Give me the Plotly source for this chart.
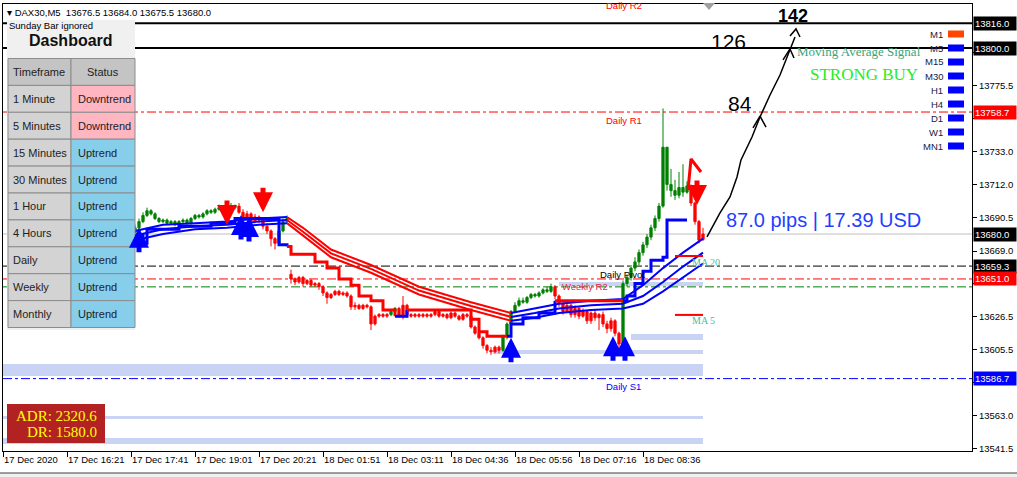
import plotly.graph_objects as go

# ------------------------------------------------------------------ data
SYMBOL = "DAX30,M5"
BAR0 = 33  # first drawn bar index (bars before it sit behind the dashboard)

opens = [
    13681, 13684, 13688, 13692, 13695, 13693, 13690, 13688, 13689, 13687,
    13688, 13686, 13688, 13689, 13687, 13690, 13692, 13691, 13693, 13695,
    13694, 13696, 13697, 13696, 13698, 13697, 13698, 13694, 13690, 13693,
    13688, 13691, 13689, 13685, 13682, 13677, 13674, 13682, 13688, 13654,
    13651, 13649, 13652, 13648, 13650, 13647, 13648, 13646, 13642, 13639,
    13641, 13643, 13641, 13642, 13640, 13633, 13634, 13632, 13634, 13633,
    13622, 13627, 13628, 13627, 13628, 13630, 13632, 13627, 13634, 13628,
    13627, 13628, 13627, 13628, 13627, 13628, 13630, 13627, 13628, 13626,
    13629, 13627, 13625, 13628, 13627, 13620, 13616, 13613, 13608, 13605,
    13604, 13607, 13605, 13614, 13622, 13630, 13634, 13637, 13636, 13639,
    13641, 13640, 13642, 13644, 13643, 13646, 13640, 13635, 13630, 13634,
    13628, 13632, 13627, 13630, 13624, 13629, 13626, 13628, 13622, 13619,
    13624, 13616, 13609, 13648, 13652, 13658, 13662, 13668, 13673, 13678,
    13684, 13690, 13698, 13736, 13712, 13708, 13705, 13710, 13707, 13711,
    13700, 13688, 13676.5,
]
highs = [
    13686, 13690, 13694, 13697, 13696, 13694, 13691, 13690, 13690, 13689,
    13689, 13689, 13690, 13690, 13691, 13693, 13693, 13694, 13696, 13696,
    13697, 13699, 13698, 13700, 13700, 13699, 13700, 13696, 13695, 13694,
    13693, 13692, 13690, 13687, 13683, 13678, 13684, 13690, 13692, 13657,
    13652, 13653, 13653, 13651, 13651, 13649, 13649, 13647, 13643, 13642,
    13644, 13644, 13643, 13643, 13641, 13636, 13635, 13635, 13635, 13634,
    13628, 13629, 13629, 13629, 13631, 13633, 13633, 13640, 13635, 13629,
    13629, 13629, 13629, 13629, 13629, 13631, 13631, 13629, 13629, 13630,
    13630, 13628, 13629, 13629, 13628, 13621, 13617, 13614, 13609, 13607,
    13608, 13608, 13615, 13623, 13631, 13636, 13639, 13639, 13640, 13642,
    13642, 13643, 13645, 13646, 13648, 13647, 13641, 13636, 13636, 13635,
    13634, 13633, 13632, 13631, 13630, 13631, 13629, 13630, 13624, 13626,
    13625, 13617, 13650, 13654, 13660, 13665, 13670, 13675, 13680, 13686,
    13692, 13700, 13761, 13727, 13722, 13715, 13720, 13725, 13714, 13712,
    13701, 13689, 13684.0,
]
lows = [
    13679, 13683, 13687, 13691, 13692, 13689, 13687, 13687, 13686, 13686,
    13685, 13685, 13687, 13686, 13686, 13689, 13690, 13690, 13692, 13693,
    13693, 13695, 13695, 13695, 13696, 13696, 13693, 13688, 13689, 13686,
    13687, 13687, 13683, 13680, 13672, 13670, 13673, 13681, 13687, 13648,
    13647, 13648, 13646, 13647, 13646, 13646, 13644, 13640, 13635, 13638,
    13640, 13640, 13640, 13639, 13631, 13631, 13631, 13631, 13632, 13618,
    13621, 13626, 13626, 13626, 13627, 13629, 13626, 13625, 13626, 13626,
    13626, 13626, 13626, 13626, 13626, 13627, 13626, 13626, 13625, 13625,
    13626, 13624, 13624, 13626, 13619, 13615, 13612, 13606, 13603, 13602,
    13603, 13603, 13604, 13612, 13620, 13629, 13633, 13635, 13635, 13638,
    13639, 13639, 13641, 13642, 13642, 13638, 13633, 13628, 13629, 13626,
    13626, 13625, 13626, 13622, 13622, 13624, 13618, 13620, 13616, 13617,
    13614, 13606, 13607, 13646, 13650, 13656, 13660, 13666, 13671, 13676,
    13682, 13688, 13697, 13708, 13704, 13702, 13703, 13704, 13706, 13698,
    13686, 13674, 13675.5,
]
closes = [
    13684, 13688, 13692, 13695, 13693, 13690, 13688, 13689, 13687, 13688,
    13686, 13688, 13689, 13687, 13690, 13692, 13691, 13693, 13695, 13694,
    13696, 13697, 13696, 13698, 13697, 13698, 13694, 13690, 13693, 13688,
    13691, 13689, 13685, 13682, 13677, 13674, 13682, 13688, 13690, 13651,
    13649, 13652, 13648, 13650, 13647, 13648, 13646, 13642, 13639, 13641,
    13643, 13641, 13642, 13640, 13633, 13634, 13632, 13634, 13633, 13622,
    13627, 13628, 13627, 13628, 13630, 13632, 13627, 13634, 13628, 13627,
    13628, 13627, 13628, 13627, 13628, 13630, 13627, 13628, 13626, 13629,
    13627, 13625, 13628, 13627, 13620, 13616, 13613, 13608, 13605, 13604,
    13607, 13605, 13614, 13622, 13630, 13634, 13637, 13636, 13639, 13641,
    13640, 13642, 13644, 13643, 13646, 13640, 13635, 13630, 13634, 13628,
    13632, 13627, 13630, 13624, 13629, 13626, 13628, 13622, 13619, 13624,
    13616, 13609, 13648, 13652, 13658, 13662, 13668, 13673, 13678, 13684,
    13690, 13698, 13736, 13712, 13708, 13705, 13710, 13707, 13711, 13700,
    13688, 13676, 13680.0,
]
# bars painted green (uptrend); all others painted red
up_segments = [(33, 58), (69, 71), (97, 98), (125, 137), (155, 171)]

x_tick_bars = [0, 16, 32, 48, 64, 80, 96, 112, 128, 144, 160]
x_tick_text = ["17 Dec 2020", "17 Dec 16:21", "17 Dec 17:41", "17 Dec 19:01",
               "17 Dec 20:21", "18 Dec 01:51", "18 Dec 03:11", "18 Dec 04:36",
               "18 Dec 05:56", "18 Dec 07:16", "18 Dec 08:36"]
y_tick_vals = [13541.5, 13563.0, 13584.0, 13605.5, 13626.5, 13648.0, 13669.0,
               13690.5, 13712.0, 13733.0, 13754.5, 13775.5, 13797.0]

# three moving averages (u = rising/blue, d = falling/red)
ma_bars = [33, 40, 48, 56, 64, 71, 75, 82, 92, 104, 117, 127, 133, 139, 147, 155, 160, 165, 170, 175]
ma_fast = [13682, 13686, 13687, 13688, 13690, 13691, 13684, 13670, 13660, 13646, 13636, 13629,
           13632, 13635, 13637, 13638, 13647, 13658, 13668, 13677]
ma_mid = [13679, 13683, 13685, 13686, 13688, 13689, 13681.5, 13667.5, 13657.5, 13643.5, 13633.5,
          13626.5, 13629, 13632, 13634, 13635, 13640, 13649, 13659, 13668]
ma_slow = [13676, 13680, 13683, 13684, 13686, 13687, 13679, 13665, 13655, 13641, 13631, 13624,
           13626, 13629, 13631, 13632, 13635, 13643, 13652, 13661]
ma_dir = ['u'] * 5 + ['d'] * 6 + ['u'] * 9

# stepped trend line
trail_bars = [33, 35, 36, 44, 52, 58, 68, 69, 71, 72, 78, 81, 84, 87, 89, 92, 95, 98, 101, 117,
              119, 121, 126, 127, 130, 134, 138, 155, 156, 158, 160, 162, 165, 166, 171]
trail_prices = [13679, 13674, 13683, 13685, 13687, 13690, 13690, 13673, 13672, 13667, 13662, 13658,
                13651, 13647, 13640, 13637, 13631, 13627, 13631, 13625, 13617, 13614, 13614, 13622,
                13626, 13629, 13637, 13637, 13640, 13648, 13656, 13663, 13665, 13689, 13689]
trail_dir = ['u'] * 8 + ['d'] * 9 + ['u'] + ['d'] * 4 + ['u'] * 4 + ['d'] + ['u'] * 8

# signal arrows (head position)
buy_bars = [34, 59.5, 61.5, 127, 152.5, 155.5]
buy_prices = [13684, 13692.3, 13691, 13613, 13614, 13614]
sell_bars = [56, 65, 173.5]
sell_prices = [13685.8, 13694, 13698.7]
caret_bars = [171.25, 172, 174.5]
caret_prices = [13708.4, 13728.4, 13720.0]

# horizontal levels
level_prices = [13816.0, 13800.0, 13758.7, 13680.0, 13659.3, 13651.0, 13645.9, 13586.7]
level_colors = ['#000000', '#000000', '#ff0000', '#c0c0c0', '#000000', '#ff0000', '#008000', '#0000ff']
level_dash = ['solid', 'solid', 'dashdot', 'solid', 'dashdot', 'dashdot', 'dashdot', 'dashdot']
level_width = [2, 2, 1, 1, 1, 1, 1, 1]
level_box = ['#000000', '#000000', '#ff0000', '#000000', '#000000', '#ff0000', None, '#0000ff']

pivot_names = ["Daily R1", "Daily Pivot", "Weekly R2", "Daily S1"]
pivot_prices = [13758.7, 13659.3, 13651.0, 13586.7]
pivot_bars = [150.25, 148.75, 139.25, 150.25]
pivot_colors = ['#ff0000', '#000000', '#e8254a', '#0000ff']

# support / resistance zones: (low, high, from bar, to bar)
zone_low = [13588.4, 13602.6, 13611.6, 13646.5, 13560.6, 13544.5]
zone_high = [13596.1, 13605.2, 13615.5, 13649.0, 13562.6, 13548.4]
zone_from = [0, 122.5, 157, 139, 0, 0]
zone_to = [175, 175, 175, 175, 175, 175]

# MA end markers
ma_label_names = ["MA 20", "MA 5"]
ma_label_prices = [13665.8, 13627.8]

# hand-drawn projection
draw_bars = [176, 179.25, 181.75, 183.5, 184.5, 187.25, 189.25, 191.75, 194.25, 196.25, 198]
draw_prices = [13678.1, 13693.6, 13703.9, 13716.8, 13727.8, 13742.6, 13755.5, 13769.7, 13782.6,
               13795.5, 13807.1]
head_bars = [[187.5, 189.25, 190.75], [195, 196.75, 197.75], [196.75, 198.25, 199.25]]
head_prices = [[13748.4, 13756.1, 13749.0], [13792.3, 13799.4, 13793.6], [13807.8, 13812.3, 13807.1]]
target_labels = ["84", "126", "142"]
target_bars = [184.25, 181.25, 197.5]
target_prices = [13764.5, 13803.9, 13820.7]

pips, usd = 87.0, 17.39
adr, dr = 2320.6, 1580.0

tf_names = ["1 Minute", "5 Minutes", "15 Minutes", "30 Minutes", "1 Hour", "4 Hours",
            "Daily", "Weekly", "Monthly"]
tf_status = ["Downtrend", "Downtrend", "Uptrend", "Uptrend", "Uptrend", "Uptrend",
             "Uptrend", "Uptrend", "Uptrend"]
sig_names = ["M1", "M5", "M15", "M30", "H1", "H4", "D1", "W1", "MN1"]
sig_colors = ["#ff4500"] + ["#0000ff"] * 8

# ------------------------------------------------------------------ style
W, H = 1017, 477
L, R, T, B = 3, 972, 4, 451
GREEN, RED, BLUE = '#008000', '#ff0000', '#0000ff'
SANS = "Liberation Sans"
SERIF = "Liberation Serif"


def px(X):
    return (X - L) / (R - L)


def py(Y):
    return 1 - (Y - T) / (B - T)


def note(X, Y, text, size, color, family=SANS, xanchor='left'):
    fig.add_annotation(x=px(X), y=py(Y), xref='paper', yref='paper', text=text, showarrow=False,
                       xanchor=xanchor, yanchor='middle', font=dict(family=family, size=size, color=color))


fig = go.Figure()

# candles
bars = list(range(BAR0, BAR0 + len(closes)))


def is_up(b):
    return any(a <= b <= c for a, c in up_segments)


for flag, col in ((True, GREEN), (False, RED)):
    ks = [k for k, b in enumerate(bars) if is_up(b) == flag]
    fig.add_trace(go.Candlestick(
        x=[bars[k] for k in ks], open=[opens[k] for k in ks], high=[highs[k] for k in ks],
        low=[lows[k] for k in ks], close=[closes[k] for k in ks],
        increasing=dict(line=dict(color=col, width=1), fillcolor=col),
        decreasing=dict(line=dict(color=col, width=1), fillcolor=col),
        whiskerwidth=0, showlegend=False, hoverinfo='skip'))


def add_dir_line(xs, ys, dirs, width, shape='linear'):
    start = 0
    n = len(xs)
    for k in range(1, n):
        if dirs[k] != dirs[start] or k == n - 1:
            fig.add_trace(go.Scatter(
                x=xs[start:k + 1], y=ys[start:k + 1], mode='lines',
                line=dict(color=BLUE if dirs[start] == 'u' else RED, width=width, shape=shape),
                showlegend=False, hoverinfo='skip'))
            start = k


for ma in (ma_fast, ma_mid, ma_slow):
    add_dir_line(ma_bars, ma, ma_dir, 2)
add_dir_line(trail_bars, trail_prices, trail_dir, 3, 'hv')

# red caret
fig.add_trace(go.Scatter(x=caret_bars, y=caret_prices, mode='lines',
                         line=dict(color=RED, width=3), showlegend=False, hoverinfo='skip'))

# MA end markers
for name, p in zip(ma_label_names, ma_label_prices):
    fig.add_trace(go.Scatter(x=[168, 175], y=[p, p], mode='lines', line=dict(color=RED, width=2),
                             showlegend=False, hoverinfo='skip'))
    fig.add_annotation(x=171.75, y=p, xref='x', yref='y', text=name, showarrow=False,
                       xanchor='left', yanchor='middle', yshift=-6,
                       font=dict(family=SERIF, size=10, color='#40c0a0'))

# hand-drawn projection
fig.add_trace(go.Scatter(x=draw_bars, y=draw_prices, mode='lines', line=dict(color='black', width=1.5),
                         showlegend=False, hoverinfo='skip'))
for hb, hp in zip(head_bars, head_prices):
    fig.add_trace(go.Scatter(x=hb, y=hp, mode='lines', line=dict(color='black', width=1.5),
                             showlegend=False, hoverinfo='skip'))
for t, b, p in zip(target_labels, target_bars, target_prices):
    fig.add_annotation(x=b, y=p, xref='x', yref='y', text=f"<b>{t}</b>" if t == "142" else t,
                       showarrow=False, xanchor='center', yanchor='middle',
                       font=dict(family=SANS, size=18 if t == "142" else 21, color='black'))

# signal arrows
for b, p in zip(buy_bars, buy_prices):
    fig.add_annotation(x=b, y=p, xref='x', yref='y', ax=0, ay=26, text='', showarrow=True,
                       arrowhead=2, arrowsize=0.8, arrowwidth=5, arrowcolor=BLUE)
for b, p in zip(sell_bars, sell_prices):
    fig.add_annotation(x=b, y=p, xref='x', yref='y', ax=0, ay=-26, text='', showarrow=True,
                       arrowhead=2, arrowsize=0.8, arrowwidth=5, arrowcolor=RED)

shapes = []
# zones
for lo, hi, x0, x1 in zip(zone_low, zone_high, zone_from, zone_to):
    shapes.append(dict(type='rect', xref='x', yref='y', x0=x0, x1=x1, y0=lo, y1=hi,
                       fillcolor='#c9d4f4', line=dict(width=0), layer='below'))
# levels
for p, c, d, w in zip(level_prices, level_colors, level_dash, level_width):
    shapes.append(dict(type='line', xref='paper', yref='y', x0=0, x1=1, y0=p, y1=p,
                       line=dict(color=c, width=w, dash=d), layer='below'))
for p, bc in zip(level_prices, level_box):
    if bc:
        fig.add_annotation(x=1, y=p, xref='paper', yref='y', text=f"{p:.1f}", showarrow=False,
                           xanchor='left', yanchor='middle', xshift=1, bgcolor=bc, borderpad=1,
                           width=40, align='left', font=dict(family=SANS, size=9.5, color='white'))
for name, p, b, c in zip(pivot_names, pivot_prices, pivot_bars, pivot_colors):
    fig.add_annotation(x=b, y=p, xref='x', yref='y', text=name, showarrow=False, xanchor='left',
                       yanchor='middle', yshift=-8, font=dict(family=SANS, size=9.5, color=c))
note(604, 6, "Daily R2", 9.5, '#ff0000')
# chart shift marker
shapes.append(dict(type='path', xref='paper', yref='paper',
                   path=f"M{px(703)},{py(3)} L{px(715)},{py(3)} L{px(709)},{py(10)} Z",
                   fillcolor='#a0a0a0', line=dict(width=0)))

# header
note(5, 12, f"▾ {SYMBOL}  {opens[-1]:.1f} {highs[-1]:.1f} {lows[-1]:.1f} {closes[-1]:.1f}", 9.5, 'black')

# pips text
fig.add_annotation(x=180.25, y=13689.0, xref='x', yref='y', xanchor='left', yanchor='middle',
                   showarrow=False, text=f"{pips:.1f} pips | {usd:.2f} USD",
                   font=dict(family=SANS, size=20, color='#1f3fff'))

# MA signal panel
note(859, 52, "Moving Average Signal", 13, '#3aa57a', SERIF, 'center')
note(864, 75, "STRONG BUY", 17, '#22ee22', SERIF, 'center')
for i, (n, c) in enumerate(zip(sig_names, sig_colors)):
    yc = 34 + 14 * i
    note(945, yc, n, 9.5, '#202040', SANS, 'right')
    shapes.append(dict(type='rect', xref='paper', yref='paper', x0=px(948), x1=px(964),
                       y0=py(yc + 3.5), y1=py(yc - 3.5), fillcolor=c, line=dict(width=0)))

# dashboard
shapes.append(dict(type='rect', xref='paper', yref='paper', x0=px(7), x1=px(135), y0=py(330), y1=py(20),
                   fillcolor='#f0f0f0', line=dict(width=0), layer='above'))
note(7, 25, "Sunday Bar ignored", 9.5, 'black')
note(71, 40, "<b>Dashboard</b>", 16, '#111111', SANS, 'center')
tx0, tx1, tx2 = 8, 71, 135
ty0, rh = 58.5, 26.9
rows = [("Timeframe", "Status", '#c4c4c4', '#c4c4c4')] + [
    (n, s, '#d3d3d3', '#ffb6c1' if s == "Downtrend" else '#87ceeb') for n, s in zip(tf_names, tf_status)]
for r, (a, s, c1, c2) in enumerate(rows):
    y0 = ty0 + r * rh
    y1 = y0 + rh
    ym = (y0 + y1) / 2
    shapes.append(dict(type='rect', xref='paper', yref='paper', x0=px(tx0), x1=px(tx1), y0=py(y1), y1=py(y0),
                       fillcolor=c1, line=dict(color='#8c8c8c', width=1), layer='above'))
    shapes.append(dict(type='rect', xref='paper', yref='paper', x0=px(tx1), x1=px(tx2), y0=py(y1), y1=py(y0),
                       fillcolor=c2, line=dict(color='#8c8c8c', width=1), layer='above'))
    if r == 0:
        note((tx0 + tx1) / 2 - 1, ym, a, 11, '#222222', SANS, 'center')
        note((tx1 + tx2) / 2, ym, s, 11, '#222222', SANS, 'center')
    else:
        note(11, ym, a, 11, '#222222')
        note(76, ym, s, 11, '#222222')

# ADR box
shapes.append(dict(type='rect', xref='paper', yref='paper', x0=px(7), x1=px(105), y0=py(443), y1=py(404),
                   fillcolor='#b22222', line=dict(width=0), layer='above'))
note(99, 416, f"ADR: {adr:.1f}", 15, '#ffff00', SERIF, 'right')
note(99, 432, f"DR: {dr:.1f}", 15, '#ffff00', SERIF, 'right')

# window strip at bottom
shapes.append(dict(type='rect', xref='paper', yref='paper', x0=px(-5), x1=px(W + 5), y0=py(480), y1=py(473),
                   fillcolor='#f0f0f0', line=dict(color='#404040', width=1)))

covered = {13584.0, 13648.0, 13754.5, 13797.0}
fig.update_layout(
    width=W, height=H, margin=dict(l=L, r=W - R, t=T, b=H - B, autoexpand=False),
    paper_bgcolor='white', plot_bgcolor='white', showlegend=False, boxgap=0.2,
    font=dict(family=SANS, size=9.5, color='black'),
    shapes=shapes,
    xaxis=dict(range=[0, (R - L) / 4], showgrid=False, zeroline=False, rangeslider=dict(visible=False),
               tickmode='array', tickvals=x_tick_bars, ticktext=x_tick_text, ticks='outside', ticklen=5,
               tickangle=0, automargin=False,
               tickcolor='black', ticklabelposition='outside right', showline=True, linecolor='black',
               linewidth=1, mirror=True, tickfont=dict(family=SANS, size=9.5, color='black')),
    yaxis=dict(range=[13540.0, 13828.4], side='right', showgrid=False, zeroline=False, tickmode='array',
               tickvals=y_tick_vals, ticktext=["" if v in covered else f"{v:.1f}" for v in y_tick_vals],
               ticks='outside', ticklen=4, automargin=False,
               tickcolor='black', showline=True, linecolor='black', linewidth=1, mirror=True,
               tickfont=dict(family=SANS, size=9.5, color='black')),
)

fig.write_html("out.html", config={'displayModeBar': False},
               post_script="document.body.style.margin='0px';document.body.style.overflow='hidden';")
